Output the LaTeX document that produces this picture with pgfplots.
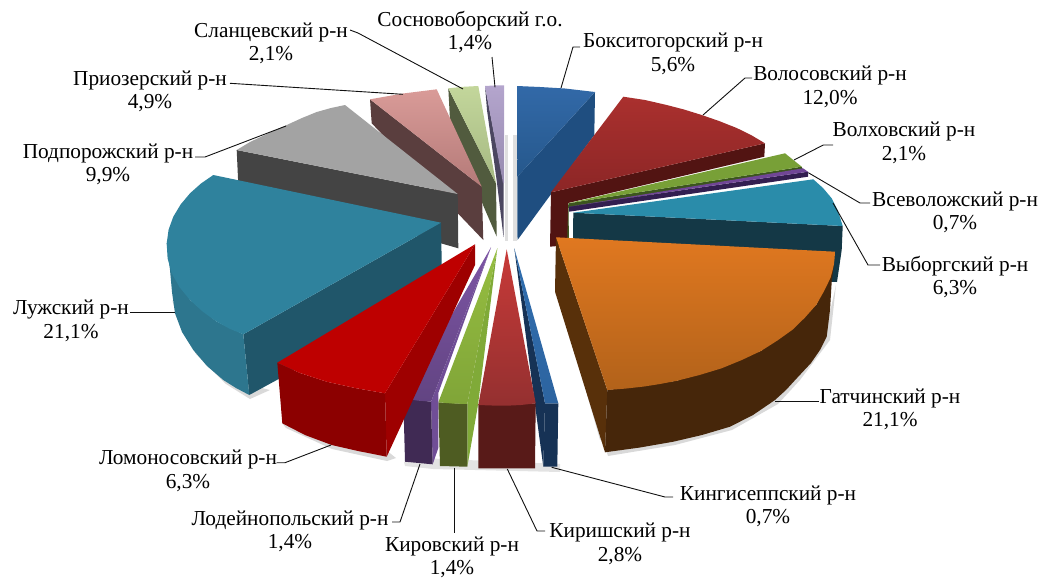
\documentclass[border=0pt]{standalone}
\usepackage{pgfplots}
\pgfplotsset{compat=1.18}
\usepackage{fontspec}
\setmainfont{Liberation Serif}
\definecolor{lead}{HTML}{111111}
\newcommand{\lab}[3]{\node[align=center,inner sep=0pt,yshift=-1.5pt,text=black,font=\fontsize{21.3}{23.6}\selectfont] at (axis cs:#1,#2) {#3};}
\begin{document}
\begin{tikzpicture}
\begin{axis}[scale only axis,width=1043pt,height=577pt,xmin=0,xmax=1043,ymin=0,ymax=577,y dir=reverse,hide axis,clip=false,
  every axis plot/.append style={draw=none,line join=round},
  ld/.style={draw=lead,line width=0.9pt,fill=none}]
\path (axis cs:0,0) rectangle (axis cs:1043,577);
% soft shadows
\addplot[fill=gray!30] coordinates {(558,292)(608,456)(675,445)(732,430)(778,404)(800,380)(830,340)(836,285)(826,330)(600,440)};
\addplot[fill=gray!30] coordinates {(172,300)(178,318)(196,354)(226,384)(250,399)(270,390)(250,385)(190,330)};
\addplot[fill=gray!30] coordinates {(282,423)(286,428)(332,449)(387,461)(396,458)(386,450)(300,420)};
\addplot[fill=gray!22] coordinates {(404,462)(405,466)(433,469)(560,472)(560,464)(420,458)};
\addplot[fill=gray!25] coordinates {(505,135)(508,135)(508,241)(505,241)};
\addplot[fill=gray!25] coordinates {(513,135)(517,135)(517,241)(513,241)};
% Sosnovoborsky
\addplot[fill={rgb,255:red,75;green,70;blue,96}] coordinates {(485,86)(503.5,183)(503.5,237)(497,183)(487,110)};
\addplot[top color={rgb,255:red,180;green,165;blue,205},bottom color={rgb,255:red,150;green,138;blue,175}] coordinates {(485,86)(494,85.5)(504,85.3)(504,183)(503,183)};
% Slantsevsky
\addplot[fill={rgb,255:red,81;green,91;blue,62}] coordinates {(448.3,88.3)(496,183.3)(496.7,236.7)(483,205)(450,120)};
\addplot[top color={rgb,255:red,195;green,214;blue,155},bottom color={rgb,255:red,165;green,185;blue,130}] coordinates {(448.3,88.3)(463,86.8)(478.3,86)(496,183.3)};
% Priozersky
\addplot[fill={rgb,255:red,90;green,62;blue,62}] coordinates {(370,99.3)(481.7,186.7)(483.3,240)(371.7,123.3)};
\addplot[top color={rgb,255:red,217;green,155;blue,152},bottom color={rgb,255:red,180;green,122;blue,120}] coordinates {(370,99.3)(403,93.5)(436.7,89.3)(481.7,186.7)};
% Podporozhsky
\addplot[fill={rgb,255:red,68;green,68;blue,68}] coordinates {(236.7,150)(457.7,194)(458.3,248.3)(238.3,185)};
\addplot[fill={rgb,255:red,163;green,163;blue,163}] coordinates {(236.7,150)(250,142)(268,133.5)(286.7,125)(302,118)(316.7,112)(331,108)(345,105)(457.7,194)};
% Luzhsky
\addplot[fill={rgb,255:red,32;green,86;blue,106}] coordinates {(441,222.7)(441.7,263)(441.7,290)(249.3,395)(243.3,334.3)};
\addplot[fill={rgb,255:red,45;green,118;blue,142}] coordinates {(166.7,243.3)(170,270)(172,292)(175,313.3)(182,332)(193.3,350)(207,366)(223.3,380)(236,388)(249.3,395)(243.3,334.3)(216.7,321.7)(190,300)};
\addplot[fill={rgb,255:red,47;green,130;blue,157}] coordinates {(213.3,175)(441,222.7)(243.3,334.3)(229.5,328.7)(216.7,321.7)(202.8,311.7)(190,300)(179.5,287.2)(171.7,273.3)(167.6,258.3)(166.7,243.3)(168.6,229.6)(173.3,216.7)(180.6,204.5)(190,193.3)(201,183.5)};
% Boksitogorsky
\addplot[fill={rgb,255:red,31;green,78;blue,128}] coordinates {(595,92)(594.3,135)(517.5,240)(517.3,176.7)};
\addplot[top color={rgb,255:red,50;green,105;blue,168},bottom color={rgb,255:red,38;green,88;blue,140}] coordinates {(517,86)(540,87)(565,88.5)(595,92)(517.3,176.7)};
% Volosovsky
\addplot[fill={rgb,255:red,82;green,20;blue,18}] coordinates {(551,192.3)(765,143.3)(764.3,156.7)(568,203)(568,245)(550,246.7)};
\addplot[top color={rgb,255:red,170;green,48;blue,46},bottom color={rgb,255:red,140;green,38;blue,38}] coordinates {(623.3,96.7)(645,100)(666.7,105)(684,109.5)(701.7,115)(719,121)(736.7,128)(751,135)(765,143.3)(551,192.3)};
% Volkhovsky
\addplot[fill={rgb,255:red,60;green,85;blue,30}] coordinates {(568.3,203.3)(801.7,166.7)(803,170)(568.5,208)(569,245)(567,245)};
\addplot[fill={rgb,255:red,120;green,160;blue,55}] coordinates {(785,153.3)(801.7,166.7)(568.3,203.3)};
% Vsevolozhsky
\addplot[fill={rgb,255:red,50;green,30;blue,80}] coordinates {(569,206.7)(808,171.7)(808,176.7)(569,211.7)};
\addplot[fill={rgb,255:red,112;green,70;blue,150}] coordinates {(803,168.3)(808,171.7)(569,206.7)};
% Vyborgsky
\addplot[fill={rgb,255:red,20;green,56;blue,70}] coordinates {(573.3,212.7)(842.7,226)(841.7,250)(837,282)(572.7,270)};
\addplot[fill={rgb,255:red,42;green,140;blue,170}] coordinates {(813.3,179.3)(823,188)(831.7,198.3)(838,211)(842.7,226)(573.3,212.7)};
% Gatchinsky
\addplot[fill={rgb,255:red,88;green,48;blue,10}] coordinates {(556,237.3)(607.3,390)(605,452.3)(555,291.7)};
\addplot[fill={rgb,255:red,70;green,38;blue,10}] coordinates {(833.9,264.3)(831.7,281.7)(830,310)(826.7,336.7)(820,350)(811,363)(797,378)(786,390)(775,400)(753,415)(730,426.7)(702,435)(673.3,441.7)(640,447.5)(605,452.3)(607.3,390)(676.8,380.8)(761.1,350.9)(816.5,304.5)};
\addplot[top color={rgb,255:red,224;green,120;blue,32},bottom color={rgb,255:red,178;green,98;blue,26}] coordinates {(556,237.3)(835,251.7)(834.6,258)(833.9,264.3)(832.4,271)(830.5,277.9)(823.8,291.5)(816.5,304.5)(805.2,317.3)(793.1,329.3)(777.4,340.5)(761.1,350.9)(741.8,360)(721.6,368.3)(699.5,375)(676.8,380.8)(660,384)(643.5,386.6)(625.5,388.6)(607.3,390)};
% Kingiseppsky
\addplot[fill={rgb,255:red,22;green,50;blue,85}] coordinates {(514.3,248.3)(545,403.3)(543.3,466.7)(535,405)};
\addplot[fill={rgb,255:red,22;green,50;blue,85}] coordinates {(545,403.3)(558.3,403.3)(557.3,466.7)(543.3,466.7)};
\addplot[top color={rgb,255:red,48;green,110;blue,175},bottom color={rgb,255:red,45;green,100;blue,160}] coordinates {(514.3,248.3)(558.3,403.3)(545,403.3)};
% Kirishsky
\addplot[fill={rgb,255:red,88;green,26;blue,24}] coordinates {(478.3,405)(535.7,403.3)(535,468.3)(478.3,468.3)};
\addplot[top color={rgb,255:red,200;green,58;blue,56},bottom color={rgb,255:red,148;green,48;blue,48}] coordinates {(506.7,249.3)(535.7,403.3)(521,405)(506.7,405.7)(492,405.5)(478.3,405)};
% Kirovsky
\addplot[fill={rgb,255:red,128;green,170;blue,56}] coordinates {(497.3,248.3)(467.3,404)(467.3,466.7)(478,405)};
\addplot[fill={rgb,255:red,78;green,92;blue,34}] coordinates {(438.3,402.3)(467.3,404)(467.3,466.7)(440,466)};
\addplot[top color={rgb,255:red,150;green,190;blue,65},bottom color={rgb,255:red,128;green,165;blue,56}] coordinates {(497.3,248.3)(467.3,404)(452,403.5)(438.3,402.3)};
% Lodeynopolsky
\addplot[fill={rgb,255:red,112;green,78;blue,150}] coordinates {(491,247.3)(431,401.7)(432.7,464.3)(438.3,448)(438.3,393)};
\addplot[fill={rgb,255:red,64;green,42;blue,84}] coordinates {(403.3,398.3)(431,401.7)(432.7,464.3)(405,461.7)};
\addplot[top color={rgb,255:red,125;green,85;blue,165},bottom color={rgb,255:red,98;green,68;blue,130}] coordinates {(491,247.3)(431,401.7)(417,400.5)(403.3,398.3)};
% Lomonosovsky
\addplot[fill={rgb,255:red,158;green,0;blue,0}] coordinates {(475,244.3)(475,265)(386.7,456.7)(385,393.3)};
\addplot[fill={rgb,255:red,140;green,0;blue,0}] coordinates {(277.3,362.7)(300,373)(326.7,381.7)(355,388)(385,393.3)(386.7,456.7)(358,451)(331.7,445)(305,435)(282.3,423.3)};
\addplot[fill={rgb,255:red,190;green,0;blue,0}] coordinates {(475,244.3)(385,393.3)(355,388)(326.7,381.7)(300,373)(277.3,362.7)};
% leaders
\addplot[ld] coordinates {(561,88)(573,47)(580,47)};
\addplot[ld] coordinates {(703,115)(745,78)(752,78)};
\addplot[ld] coordinates {(794,160)(823.3,145)(833,145)};
\addplot[ld] coordinates {(808.3,172.7)(860,203)(870,203)};
\addplot[ld] coordinates {(833,203)(868,265)(880,265)};
\addplot[ld] coordinates {(775,401.7)(819,401.7)};
\addplot[ld] coordinates {(551.7,467.3)(665,497)(673,497)};
\addplot[ld] coordinates {(507.3,469)(537,531)(545,531)};
\addplot[ld] coordinates {(454,467.7)(454,533)};
\addplot[ld] coordinates {(420,464)(400,522)(392,522)};
\addplot[ld] coordinates {(331,445)(285,462.7)(276.7,462.7)};
\addplot[ld] coordinates {(175,312.7)(130,312.7)};
\addplot[ld] coordinates {(286,126)(205,157)(195,157)};
\addplot[ld] coordinates {(403,94.3)(230,83.3)};
\addplot[ld] coordinates {(463,89)(358,33)(350,30)};
\addplot[ld] coordinates {(495,87.3)(492,57)};
% labels
\lab{673}{52.5}{Бокситогорский р-н\\5,6\%}
\lab{830}{85.5}{Волосовский р-н\\12,0\%}
\lab{904}{141.5}{Волховский р-н\\2,1\%}
\lab{955}{211}{Всеволожский р-н\\0,7\%}
\lab{955}{275.5}{Выборгский р-н\\6,3\%}
\lab{890}{408}{Гатчинский р-н\\21,1\%}
\lab{768}{505}{Кингисеппский р-н\\0,7\%}
\lab{620}{542.5}{Киришский р-н\\2,8\%}
\lab{452}{556}{Кировский р-н\\1,4\%}
\lab{290}{530}{Лодейнопольский р-н\\1,4\%}
\lab{188}{469.5}{Ломоносовский р-н\\6,3\%}
\lab{71}{319.5}{Лужский р-н\\21,1\%}
\lab{108}{163}{Подпорожский р-н\\9,9\%}
\lab{150}{90}{Приозерский р-н\\4,9\%}
\lab{271}{42}{Сланцевский р-н\\2,1\%}
\lab{470}{30.5}{Сосновоборский г.о.\\1,4\%}
\end{axis}
\end{tikzpicture}
\end{document}
